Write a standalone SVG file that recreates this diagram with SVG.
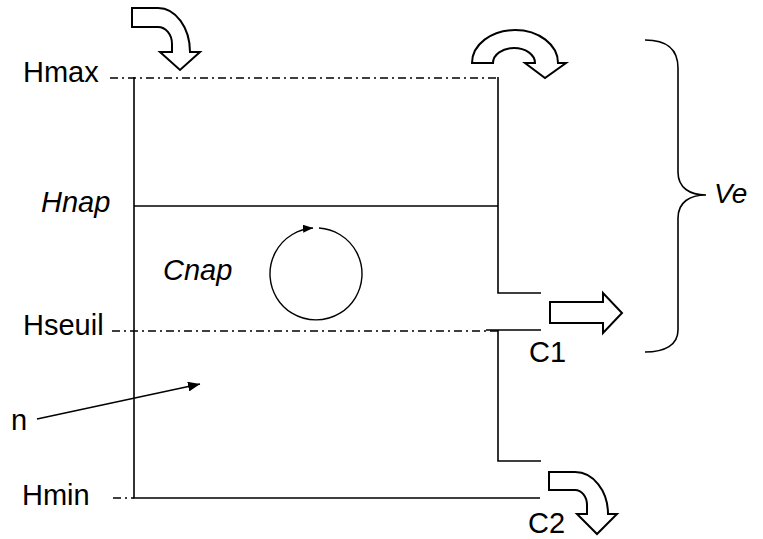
<svg xmlns="http://www.w3.org/2000/svg" width="763" height="539" viewBox="0 0 763 539">
<style>
.t{font-family:"Liberation Sans",Arial,sans-serif;font-size:29px;fill:#000}
.i{font-style:italic}
.s{fill:none;stroke:#000;stroke-width:1.6}
.dd{fill:none;stroke:#000;stroke-width:1.6;stroke-dasharray:8 4 2 4}
.ar{fill:#fff;stroke:#000;stroke-width:2;stroke-linejoin:miter}
</style>
<defs>
<marker id="ah" markerUnits="userSpaceOnUse" markerWidth="14" markerHeight="10" refX="12" refY="5" orient="auto">
<path d="M0,0 L12,5 L0,10 Z" fill="#000"/>
</marker>
<marker id="ah2" markerUnits="userSpaceOnUse" markerWidth="12" markerHeight="10" refX="10" refY="4" orient="auto">
<path d="M0,0 L10,4 L0,8 Z" fill="#000"/>
</marker>
</defs>
<rect width="763" height="539" fill="#fff"/>
<g id="reservoir">
<path class="s" d="M134,77 L134,498 L540,498"/>
<path class="s" d="M498,77 L498,293 L541,293"/>
<path class="s" d="M486,330 L541,330 M498,330 L498,461 L541,461"/>
<path class="s" d="M134,206 L498,206"/>
</g>
<g id="levels">
<path class="dd" d="M110,78 L498,78"/>
<path class="dd" d="M112,331 L498,331"/>
<path class="dd" d="M113,498 L134,498"/>
</g>
<g id="labels">
<text class="t" x="23" y="82">Hmax</text>
<text class="t i" x="41" y="212">Hnap</text>
<text class="t i" x="163" y="280">Cnap</text>
<text class="t" x="23" y="335">Hseuil</text>
<text class="t" x="11" y="430">n</text>
<text class="t" x="22" y="505">Hmin</text>
<text class="t" x="529" y="362">C1</text>
<text class="t" x="528" y="533">C2</text>
<text class="t i" x="714" y="203" style="font-size:28px">Ve</text>
</g>
<g id="inflow">
<path class="ar" d="M132,8 L158,8 A32,44 0 0 1 190,52 L200,52 L180,70 L160,52 L172,52 L172,44 A14,17 0 0 0 158,27 L132,27 Z"/>
</g>
<g id="overflow">
<path class="ar" d="M472,63 A43,33 0 0 1 558,63 L566,63 L545,78 L525,63 L535,63 A21,15 0 0 0 493,63 Z"/>
</g>
<g id="c1-arrow">
<path class="ar" d="M550,302 L603,302 L603,293 L622,313 L603,333 L603,323 L550,323 Z"/>
</g>
<g id="c2-arrow">
<path class="ar" d="M549,472 L575,472 A33,42 0 0 1 608,514 L617,514 L597,534 L577,514 L587,514 L587,505 A12,15 0 0 0 575,490 L549,490 Z"/>
</g>
<g id="brace">
<path class="s" d="M645,40 C665,40 678,48 678,68 L678,172 C678,188 690,195 706,195 C690,195 678,202 678,218 L678,330 C678,345 665,352 645,352"/>
</g>
<g id="connectors">
<path class="s" d="M37,419 L200,384" marker-end="url(#ah)" style="stroke-width:1.4"/>
<path class="s" d="M319,228 A46,46 0 1 1 313,228" marker-end="url(#ah2)" style="stroke-width:1.4"/>
</g>
</svg>
